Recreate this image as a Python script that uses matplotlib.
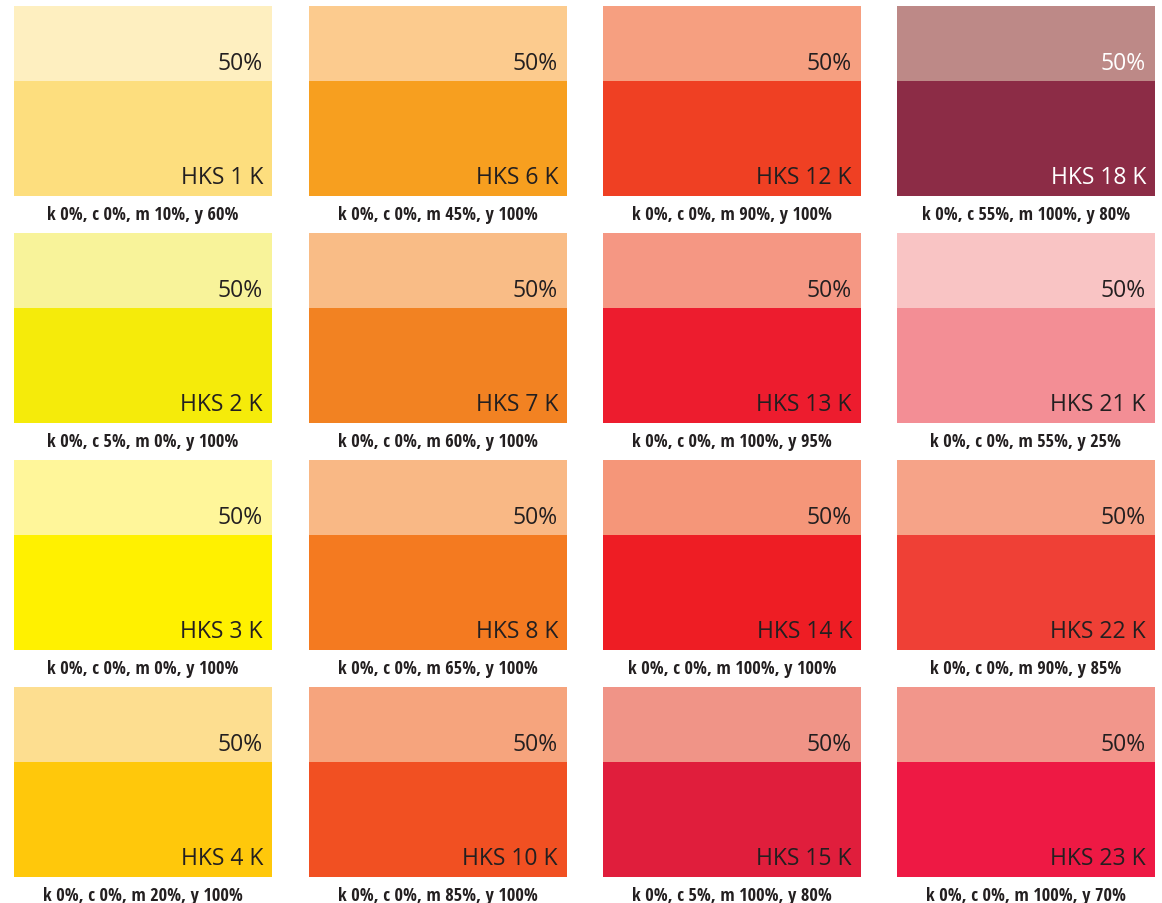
import matplotlib
matplotlib.use("Agg")
import matplotlib.pyplot as plt
from matplotlib import font_manager

names = ["HKS 1 K", "HKS 6 K", "HKS 12 K", "HKS 18 K",
         "HKS 2 K", "HKS 7 K", "HKS 13 K", "HKS 21 K",
         "HKS 3 K", "HKS 8 K", "HKS 14 K", "HKS 22 K",
         "HKS 4 K", "HKS 10 K", "HKS 15 K", "HKS 23 K"]
full_colors = ["#FDDE7E", "#F79F1F", "#EF4023", "#8C2C46",
               "#F5EB0A", "#F28222", "#ED1C2E", "#F38E95",
               "#FFF100", "#F47A20", "#EE1D24", "#EF4036",
               "#FFC80B", "#F15022", "#E01E3C", "#EE1944"]
half_colors = ["#FEEFC0", "#FCCB8E", "#F69F80", "#BD8987",
               "#F8F39A", "#F9BC86", "#F59783", "#F9C4C4",
               "#FFF69A", "#F9B885", "#F59679", "#F6A388",
               "#FDDE90", "#F6A47D", "#F09487", "#F2968B"]
cmyk = ["k 0%, c 0%, m 10%, y 60%", "k 0%, c 0%, m 45%, y 100%",
        "k 0%, c 0%, m 90%, y 100%", "k 0%, c 55%, m 100%, y 80%",
        "k 0%, c 5%, m 0%, y 100%", "k 0%, c 0%, m 60%, y 100%",
        "k 0%, c 0%, m 100%, y 95%", "k 0%, c 0%, m 55%, y 25%",
        "k 0%, c 0%, m 0%, y 100%", "k 0%, c 0%, m 65%, y 100%",
        "k 0%, c 0%, m 100%, y 100%", "k 0%, c 0%, m 90%, y 85%",
        "k 0%, c 0%, m 20%, y 100%", "k 0%, c 0%, m 85%, y 100%",
        "k 0%, c 5%, m 100%, y 80%", "k 0%, c 0%, m 100%, y 70%"]
light_text = ["HKS 18 K"]

available = {f.name for f in font_manager.fontManager.ttflist}

def pick(cands, default):
    for c in cands:
        if c in available:
            return c
    return default

cap_family = pick(["Open Sans Condensed", "IBM Plex Sans Condensed", "Roboto Condensed"], "DejaVu Sans")
label_family = pick(["Open Sans"], "DejaVu Sans")

fig = plt.figure(figsize=(11.62, 9.04), dpi=100)
ax = fig.add_axes([0, 0, 1, 1])
ax.set_xlim(0, 1162)
ax.set_ylim(904, 0)
ax.axis("off")

col_left = [14, 309, 603, 897]
row_top = [7, 234, 461, 688]
W = 258
H_half = 75
H_full = 115

for i, name in enumerate(names):
    r, c = divmod(i, 4)
    x0 = col_left[c]
    y0 = row_top[r]
    ax.bar(x0, H_half, width=W, bottom=y0, align="edge", color=half_colors[i], linewidth=0)
    ax.bar(x0, H_full, width=W, bottom=y0 + H_half, align="edge", color=full_colors[i], linewidth=0)
    tc = "white" if name in light_text else "#231F20"
    ax.text(x0 + W - 9, y0 + 63, "50%", ha="right", va="baseline",
            fontsize=16.5, family=label_family, color=tc)
    ax.text(x0 + W - 9, y0 + 177, name, ha="right", va="baseline",
            fontsize=16.5, family=label_family, color=tc)
    ax.text(x0 + W / 2, y0 + 213, cmyk[i], ha="center", va="baseline",
            fontsize=13.2, family=cap_family, fontweight="bold", color="#231F20",
            fontstretch="condensed")

fig.savefig("out.png", dpi=100)
